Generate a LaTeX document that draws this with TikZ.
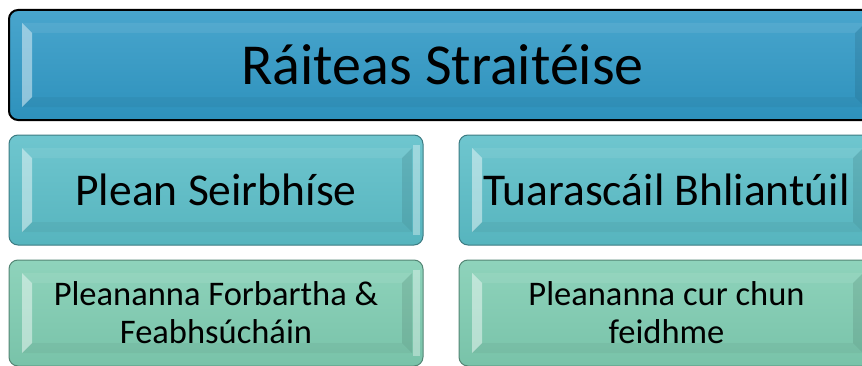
\documentclass[tikz,border=0pt]{standalone}
\usepackage{fontspec}
\setmainfont{Carlito}
\usepackage{tikz}
\usepackage{xcolor}
\usetikzlibrary{
    calc,
    positioning
}
\definecolor{stratblue}{HTML}{3099C6}
\definecolor{planteal}{HTML}{5BBEC8}
\definecolor{devgreen}{HTML}{7FCDB2}

\tikzset{
    panel/.style={
        rounded corners=9pt, line width=1pt, draw=#1!65!black,
        top color=#1!88!white, bottom color=#1!95!black,
        text=black, align=center, inner sep=0pt,
        path picture={
            \coordinate (pp-sw) at (path picture bounding box.south west);
            \coordinate (pp-ne) at (path picture bounding box.north east);
            \coordinate (pp-nw) at (pp-sw |- pp-ne);
            \coordinate (pp-se) at (pp-ne |- pp-sw);
            % left bevel
            \fill[white, opacity=0.45, sharp corners]
                ($(pp-sw)+(13pt,13pt)$) -- ($(pp-sw)+(23pt,23pt)$) -- ($(pp-nw)+(23pt,-23pt)$) -- ($(pp-nw)+(13pt,-13pt)$) -- cycle;
            % top bevel
            \fill[white, opacity=0.07, sharp corners]
                ($(pp-nw)+(13pt,-13pt)$) -- ($(pp-nw)+(23pt,-23pt)$) -- ($(pp-ne)+(-21pt,-23pt)$) -- ($(pp-ne)+(-11pt,-13pt)$) -- cycle;
            % bottom bevel
            \fill[black, opacity=0.04, sharp corners]
                ($(pp-sw)+(13pt,13pt)$) -- ($(pp-sw)+(23pt,23pt)$) -- ($(pp-se)+(-21pt,23pt)$) -- ($(pp-se)+(-11pt,13pt)$) -- cycle;
            % right bevel
            \fill[black, opacity=0.09, sharp corners]
                ($(pp-se)+(-11pt,13pt)$) -- ($(pp-se)+(-21pt,23pt)$) -- ($(pp-ne)+(-21pt,-23pt)$) -- ($(pp-ne)+(-11pt,-13pt)$) -- cycle;
            \fill[white, opacity=0.35, sharp corners]
                ($(pp-se)+(-10pt,10pt)$) rectangle ($(pp-ne)+(-3pt,-10pt)$);
        }
    },
    bigfont/.style={font=\fontsize{58}{68}\selectfont},
    midfont/.style={font=\fontsize{45.5}{54}\selectfont},
    smallfont/.style={font=\fontsize{34.5}{38}\selectfont}
}

\begin{document}
\begin{tikzpicture}[x=1pt, y=1pt]
    \path[use as bounding box, clip] (0, 0) rectangle (862, 365);
    \node[panel=stratblue, draw=black, line width=2pt, bigfont, minimum width=867pt, minimum height=110pt] (strategy) at (442.5, 300) {Ráiteas Straitéise};
    \node[panel=planteal, midfont, minimum width=414pt, minimum height=110pt] (service) at (216, 175) {Plean Seirbhíse};
    \node[panel=planteal, midfont, minimum width=415pt, minimum height=110pt] (report) at (666.5, 175) {Tuarascáil Bhliantúil};
    \node[panel=devgreen, smallfont, minimum width=414pt, minimum height=106pt] (development) at (216, 52) {Pleananna Forbartha \&\\Feabhsúcháin};
    \node[panel=devgreen, smallfont, minimum width=415pt, minimum height=106pt] (implementation) at (666.5, 52) {Pleananna cur chun\\feidhme};
\end{tikzpicture}
\end{document}
